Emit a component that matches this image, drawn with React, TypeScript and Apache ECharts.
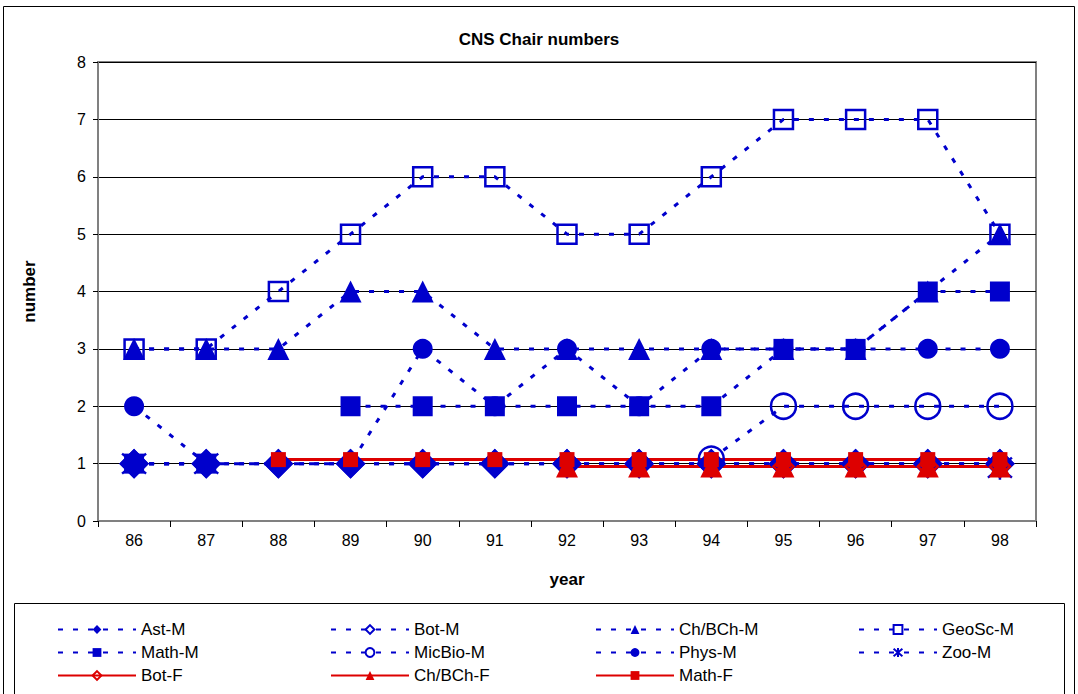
import React, { useEffect, useRef } from "react";
import * as echarts from "echarts";

const years = ["86", "87", "88", "89", "90", "91", "92", "93", "94", "95", "96", "97", "98"];
const astM = [1, 1, 1, 1, 1, 1, 1, 1, 1, 1, 1, 1, 1];
const botM = [1, 1, 1, 1, 1, 1, 1, 1, 1, 1, 1, 1, 1];
const chbchM = [3, 3, 3, 4, 4, 3, 3, 3, 3, 3, 3, 4, 5];
const geoscM = [3, 3, 4, 5, 6, 6, 5, 5, 6, 7, 7, 7, 5];
const mathM = [1, 1, null, 2, 2, 2, 2, 2, 2, 3, 3, 4, 4];
const micbioM = [null, null, null, null, null, null, null, null, 1.08, 2, 2, 2, 2];
const physM = [2, 1, 1, 1, 3, 2, 3, 2, 3, 3, 3, 3, 3];
const zooM = [1, 1, null, null, null, null, null, null, null, null, null, null, 0.93];
const botF = [null, null, null, null, null, null, null, null, null, 0.95, 0.95, 0.95, 0.95];
const chbchF = [null, null, null, null, null, null, 0.95, 0.95, 0.95, 0.95, 0.95, 0.95, 0.95];
const mathF = [null, null, 1.07, 1.07, 1.07, 1.07, 1.07, 1.07, 1.07, 1.07, 1.07, 1.07, 1.07];
const yTicks = [0, 1, 2, 3, 4, 5, 6, 7, 8];

const BLUE = "#0000CC";
const RED = "#DD0000";
const FONT = "'Liberation Sans', Arial, sans-serif";

const asterisk = "path://M0,0 L20,20 M20,0 L0,20 M10,-2 L10,22";

function blueSeries(name: string, data: (number | null)[], symbol: string, size: number, hollow: boolean) {
  return {
    name,
    type: "line",
    data,
    symbol,
    symbolSize: size,
    lineStyle: { color: BLUE, width: 3, type: [5, 10] },
    itemStyle: hollow
      ? { color: "rgba(0,0,0,0)", borderColor: BLUE, borderWidth: 2.5 }
      : { color: BLUE, borderColor: BLUE, borderWidth: 0 },
    emphasis: { disabled: true },
  };
}

function redSeries(name: string, data: (number | null)[], symbol: string, size: number, hollow: boolean) {
  return {
    name,
    type: "line",
    data,
    symbol,
    symbolSize: size,
    lineStyle: { color: RED, width: 3, type: "solid" },
    itemStyle: hollow
      ? { color: "rgba(0,0,0,0)", borderColor: RED, borderWidth: 2.5 }
      : { color: RED, borderColor: RED, borderWidth: 0 },
    emphasis: { disabled: true },
  };
}

export default function App() {
  const ref = useRef<HTMLDivElement>(null);
  useEffect(() => {
    document.body.style.margin = "0";
    const chart = echarts.init(ref.current!, null, { renderer: "svg" });
    const legendBase = {
      orient: "vertical",
      top: 621,
      itemWidth: 78,
      itemHeight: 11,
      itemGap: 6,
      textStyle: { fontFamily: FONT, fontSize: 17, color: "#000" },
      padding: 0,
      selectedMode: false,
    };
    chart.setOption({
      animation: false,
      backgroundColor: "#fff",
      title: {
        text: "CNS Chair numbers",
        left: "center",
        top: 26,
        textStyle: { fontFamily: FONT, fontSize: 17, fontWeight: "bold", color: "#000" },
      },
      legend: [
        { ...legendBase, left: 57, data: ["Ast-M", "Math-M", "Bot-F"] },
        { ...legendBase, left: 330, data: ["Bot-M", "MicBio-M", "Ch/BCh-F"] },
        { ...legendBase, left: 595, data: ["Ch/BCh-M", "Phys-M", "Math-F"] },
        { ...legendBase, left: 858, data: ["GeoSc-M", "Zoo-M"] },
      ],
      grid: {
        left: 98,
        top: 62,
        width: 938,
        height: 459,
        show: true,
        borderColor: "#808080",
        borderWidth: 2,
        backgroundColor: "#fff",
      },
      xAxis: {
        type: "category",
        data: years,
        boundaryGap: true,
        name: "year",
        nameLocation: "middle",
        nameGap: 50,
        nameTextStyle: { fontFamily: FONT, fontSize: 17, fontWeight: "bold", color: "#000" },
        axisLine: { lineStyle: { color: "#808080", width: 2 } },
        axisTick: { show: true, length: 6, lineStyle: { color: "#000" } },
        axisLabel: { fontFamily: FONT, fontSize: 16, color: "#000", margin: 11 },
        splitLine: { show: false },
      },
      yAxis: {
        type: "value",
        min: yTicks[0],
        max: yTicks[yTicks.length - 1],
        interval: 1,
        name: "number",
        nameLocation: "middle",
        nameRotate: 90,
        nameGap: 60,
        nameTextStyle: { fontFamily: FONT, fontSize: 17, fontWeight: "bold", color: "#000" },
        axisLine: { show: true, lineStyle: { color: "#808080", width: 2 } },
        axisTick: { show: true, length: 5, lineStyle: { color: "#000" } },
        axisLabel: { fontFamily: FONT, fontSize: 16, color: "#000", margin: 12 },
        splitLine: { show: true, lineStyle: { color: "#000", width: 1 } },
      },
      graphic: [
        {
          type: "rect",
          shape: { x: 3.5, y: 6.5, width: 1071, height: 700 },
          style: { fill: "none", stroke: "#000", lineWidth: 1 },
          silent: true,
          z: 100,
        },
        {
          type: "rect",
          shape: { x: 14.5, y: 603.5, width: 1050, height: 100 },
          style: { fill: "none", stroke: "#000", lineWidth: 1 },
          silent: true,
          z: 100,
        },
      ],
      series: [
        blueSeries("Ast-M", astM, "diamond", 30, false),
        blueSeries("Bot-M", botM, "diamond", 26, true),
        blueSeries("Ch/BCh-M", chbchM, "triangle", 22, false),
        blueSeries("GeoSc-M", geoscM, "rect", 19, true),
        blueSeries("Math-M", mathM, "rect", 20, false),
        blueSeries("MicBio-M", micbioM, "circle", 25, true),
        blueSeries("Phys-M", physM, "circle", 20, false),
        blueSeries("Zoo-M", zooM, asterisk, 24, true),
        redSeries("Bot-F", botF, "diamond", 20, true),
        redSeries("Ch/BCh-F", chbchF, "triangle", 22, false),
        redSeries("Math-F", mathF, "rect", 15, false),
      ],
    });
    return () => chart.dispose();
  }, []);
  return <div ref={ref} style={{ position: "fixed", left: 0, top: 0, width: 1078, height: 694 }} />;
}
